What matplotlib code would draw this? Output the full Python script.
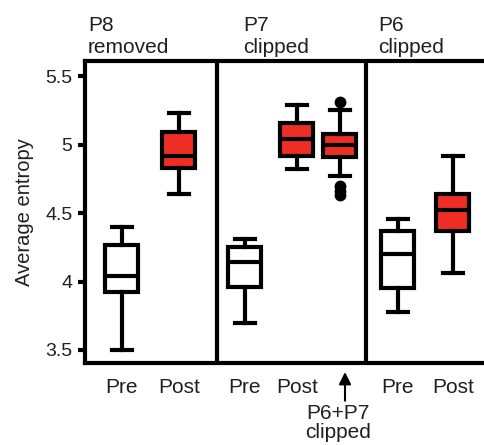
import matplotlib
matplotlib.use('Agg')
import matplotlib.pyplot as plt

plt.rcParams['font.family'] = ['Liberation Sans', 'DejaVu Sans']

# box statistics (average entropy)
groups  = ['Pre', 'Post', 'Pre', 'Post', 'P6+P7', 'Pre', 'Post']
whislo  = [3.50, 4.64, 3.70, 4.82, 4.77,  3.78, 4.06]
q1      = [3.92, 4.83, 3.96, 4.92, 4.91,  3.95, 4.37]
med     = [4.04, 4.92, 4.14, 5.04, 5.00,  4.20, 4.52]
q3      = [4.27, 5.095, 4.25, 5.16, 5.08, 4.37, 4.64]
whishi  = [4.40, 5.23, 4.31, 5.29, 5.255, 4.46, 4.92]
fliers  = [[], [], [], [], [5.31, 4.70, 4.66, 4.635], [], []]
filled  = [False, True, False, True, True, False, True]
panel_titles = ['P8\nremoved', 'P7\nclipped', 'P6\nclipped']
yticks = [3.5, 4, 4.5, 5, 5.5]
ytick_labels = ['3.5', '4', '4.5', '5', '5.5']

# layout (x in pixel-like units from the left spine)
positions = [37, 94, 160, 212, 255, 313, 368]
dividers = [132, 281]
title_x = [3, 158, 293]
red = '#ee2e24'
ink = '#231f20'

fig = plt.figure(figsize=(4.85, 4.45), dpi=100)
ax = fig.add_axes([85 / 485, 82 / 445, 400 / 485, 302 / 445])

stats = []
for i in range(len(groups)):
    stats.append(dict(med=med[i], q1=q1[i], q3=q3[i], whislo=whislo[i],
                      whishi=whishi[i], fliers=fliers[i], label=groups[i]))

lw = 3
bp = ax.bxp(stats, positions=positions, widths=33, capwidths=20,
            patch_artist=True, manage_ticks=False,
            boxprops=dict(linewidth=lw, edgecolor='black'),
            whiskerprops=dict(linewidth=lw, color='black'),
            capprops=dict(linewidth=lw, color='black'),
            medianprops=dict(linewidth=lw, color='black'),
            flierprops=dict(marker='o', markersize=7.5, markerfacecolor='black',
                            markeredgecolor='black'))
for box, f in zip(bp['boxes'], filled):
    box.set_facecolor(red if f else 'white')

for d in dividers:
    ax.axvline(d, color='black', linewidth=3)

ax.set_xlim(0, 400)
ax.set_ylim(3.405, 5.61)
ax.set_yticks(yticks)
ax.set_yticklabels(ytick_labels)
tick_pos = [p for p, g in zip(positions, groups) if g != 'P6+P7']
tick_lab = [g for g in groups if g != 'P6+P7']
ax.set_xticks(tick_pos)
ax.set_xticklabels(tick_lab)
ax.tick_params(axis='x', length=0, pad=11, labelsize=15, labelcolor=ink)
ax.tick_params(axis='y', length=5, width=3, pad=4, labelsize=14, labelcolor=ink)

for s in ['left', 'top', 'bottom']:
    ax.spines[s].set_linewidth(3)
ax.spines['right'].set_visible(False)

ax.set_ylabel('Average entropy', fontsize=14.5, color=ink, labelpad=8)

for tx, t in zip(title_x, panel_titles):
    ax.text(tx, 1.012, t, transform=ax.get_xaxis_transform(), ha='left',
            va='bottom', fontsize=15, color=ink, linespacing=1.25)

ax.annotate('', xy=(260, -0.03), xytext=(260, -0.125),
            xycoords=ax.get_xaxis_transform(),
            arrowprops=dict(arrowstyle='-|>', color='black', lw=1.5,
                            mutation_scale=18, shrinkA=0, shrinkB=0))
ax.text(253, -0.135, 'P6+P7\nclipped', transform=ax.get_xaxis_transform(),
        ha='center', va='top', fontsize=15, color=ink, linespacing=1.0)

fig.savefig('out.png', dpi=100)
